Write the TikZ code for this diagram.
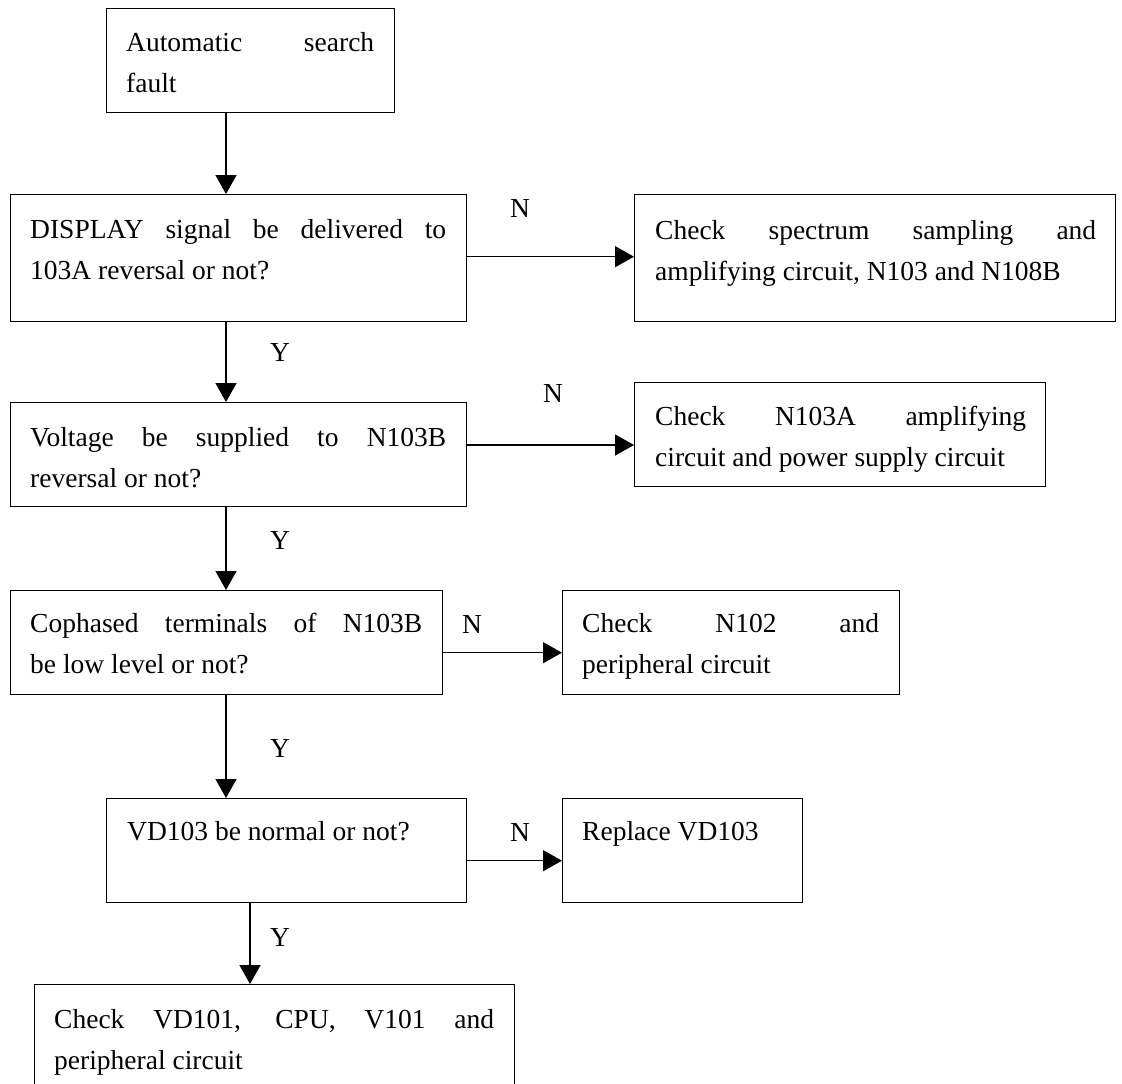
\documentclass[tikz,border=0pt]{standalone}
\usepackage{fontspec}
\setmainfont{Liberation Serif}
\usetikzlibrary{arrows.meta,calc}
\hbadness=10000
\begin{document}
\begin{tikzpicture}[x=1pt,y=-1pt,
  box/.style={draw,line width=1.4pt,anchor=north west,inner sep=0pt,minimum width=#1},
  txt/.style={anchor=north west,inner sep=0pt,text width=#1,align=justify,
    font=\fontsize{27.5}{41.5}\selectfont},
  lbl/.style={inner sep=0pt,font=\fontsize{27.5}{33}\selectfont},
  arr/.style={line width=1.4pt,-{Triangle[length=19pt,width=21pt]}}]
\useasboundingbox (0,0) rectangle (1122,1084);
\clip (0,0) rectangle (1122,1084);

% process boxes: top-left corner, width and height
\node[box=288, minimum height=104] (b1) at (106,8) {};
\node[box=456, minimum height=127] (b2) at (10,194) {};
\node[box=481, minimum height=127] (b3) at (634,194) {};
\node[box=456, minimum height=104] (b4) at (10,402) {};
\node[box=411, minimum height=104] (b5) at (634,382) {};
\node[box=432, minimum height=104] (b6) at (10,590) {};
\node[box=337, minimum height=104] (b7) at (562,590) {};
\node[box=360, minimum height=104] (b8) at (106,798) {};
\node[box=240, minimum height=104] (b9) at (562,798) {};
\node[box=480, minimum height=140] (b10) at (34,984) {};

% box texts
\node[txt=248] (t1) at ($(b1.north west)+(20,14)$) {\strut Automatic search\linebreak fault};
\node[txt=416] (t2) at ($(b2.north west)+(20,15)$) {\strut DISPLAY signal be delivered to\linebreak 103A reversal or not?};
\node[txt=441] (t3) at ($(b3.north west)+(21,16)$) {\strut Check spectrum sampling and\linebreak amplifying circuit, N103 and N108B};
\node[txt=416] (t4) at ($(b4.north west)+(20,15)$) {\strut Voltage be supplied to N103B\linebreak reversal or not?};
\node[txt=371] (t5) at ($(b5.north west)+(21,14)$) {\strut Check N103A amplifying\linebreak circuit and power supply circuit};
\node[txt=392] (t6) at ($(b6.north west)+(20,13)$) {\strut Cophased terminals of N103B\linebreak be low level or not?};
\node[txt=297] (t7) at ($(b7.north west)+(20,13)$) {\strut Check N102 and\linebreak peripheral circuit};
\node[txt=320] (t8) at ($(b8.north west)+(21,13)$) {\strut VD103 be normal or not?};
\node[txt=200] (t9) at ($(b9.north west)+(20,13)$) {\strut Replace VD103};
\node[txt=440] (t10) at ($(b10.north west)+(20,15)$) {\strut Check VD101, CPU, V101 and\linebreak peripheral circuit};

% connector guide positions
\coordinate (xa) at (226,0);
\coordinate (xb) at (250,0);
\coordinate (ya) at (0,256.7);
\coordinate (yb) at (0,445);
\coordinate (yc) at (0,652.7);
\coordinate (yd) at (0,860.7);

% "yes" path
\draw[arr] (b1.south -| xa) -- (b2.north -| xa);
\draw[arr] (b2.south -| xa) -- (b4.north -| xa);
\draw[arr] (b4.south -| xa) -- (b6.north -| xa);
\draw[arr] (b6.south -| xa) -- (b8.north -| xa);
\draw[arr] (b8.south -| xb) -- (b10.north -| xb);

% "no" branches
\draw[arr] (b2.east |- ya) -- (b3.west |- ya);
\draw[arr] (b4.east |- yb) -- (b5.west |- yb);
\draw[arr] (b6.east |- yc) -- (b7.west |- yc);
\draw[arr] (b8.east |- yd) -- (b9.west |- yd);

% branch labels
\node[lbl] (y1) at (280,352) {Y};
\node[lbl] (y2) at (280,540) {Y};
\node[lbl] (y3) at (280,748) {Y};
\node[lbl] (y4) at (280,937) {Y};
\node[lbl] (n1) at (520,208) {N};
\node[lbl] (n2) at (553,393) {N};
\node[lbl] (n3) at (472,624) {N};
\node[lbl] (n4) at (520,832) {N};
\end{tikzpicture}
\end{document}
